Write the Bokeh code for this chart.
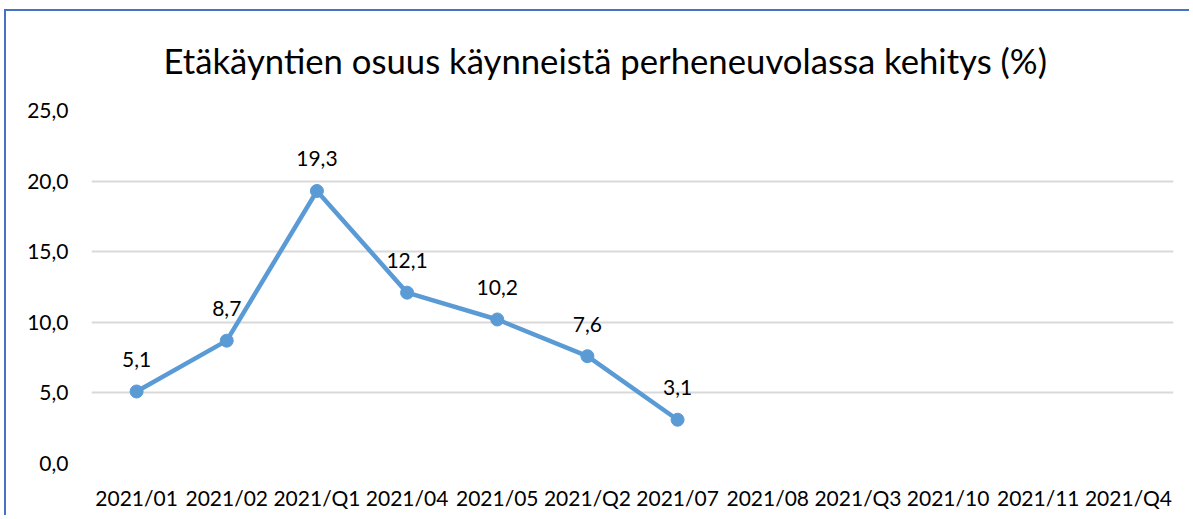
from bokeh.plotting import figure
from bokeh.models import ColumnDataSource, FactorRange, Range1d, FixedTicker
from bokeh.core.properties import value
from bokeh.embed import file_html
from bokeh.resources import INLINE

title_text = "Etäkäyntien osuus käynneistä perheneuvolassa kehitys (%)"
categories = ["2021/01", "2021/02", "2021/Q1", "2021/04", "2021/05", "2021/Q2",
              "2021/07", "2021/08", "2021/Q3", "2021/10", "2021/11", "2021/Q4"]
series_periods = ["2021/01", "2021/02", "2021/Q1", "2021/04", "2021/05", "2021/Q2", "2021/07"]
series_values = [5.1, 8.7, 19.3, 12.1, 10.2, 7.6, 3.1]
y_ticks = [0, 5, 10, 15, 20, 25]
y_tick_labels = ["0,0", "5,0", "10,0", "15,0", "20,0", "25,0"]

FONT = "Lato"
BLUE = "#5B9BD5"

src = ColumnDataSource(dict(
    x=series_periods,
    y=series_values,
    lbl=[f"{v:.1f}".replace(".", ",") for v in series_values],
))

p = figure(
    width=1185, height=506,
    x_range=FactorRange(*categories, range_padding=0),
    y_range=Range1d(0, 25),
    output_backend="svg", toolbar_location=None,
    min_border_left=85, min_border_right=18, min_border_top=98, min_border_bottom=54,
)
p.styles = {"border-top": "2px solid #4472C4", "border-left": "2px solid #4472C4",
            "margin-top": "9px", "margin-left": "4px"}

p.title.text = title_text
p.title.text_font = FONT
p.title.text_font_size = "34.7px"
p.title.text_font_style = "normal"
p.title.text_color = "#000000"
p.title.align = "left"
p.title.vertical_align = "top"
p.title.standoff = 56
p.title.offset = 72

p.outline_line_color = None
p.xgrid.grid_line_color = None
p.ygrid.grid_line_color = "#D9D9D9"
p.ygrid.grid_line_width = 2

p.yaxis.ticker = FixedTicker(ticks=y_ticks)
p.yaxis.major_label_overrides = {t: l for t, l in zip(y_ticks, y_tick_labels)}
for ax in (p.xaxis, p.yaxis):
    ax.axis_line_color = None
    ax.major_tick_line_color = None
    ax.minor_tick_line_color = None
    ax.major_label_text_font = FONT
    ax.major_label_text_font_size = "21px"
    ax.major_label_text_color = "#000000"
p.yaxis.major_label_standoff = 17
p.xaxis.major_label_standoff = 15

p.line("x", "y", source=src, line_color=BLUE, line_width=4.5)
p.scatter("x", "y", source=src, size=13, fill_color=BLUE, line_color=BLUE)
p.text("x", "y", text="lbl", source=src, text_font=value(FONT), text_font_size="21px",
       text_align="center", text_baseline="middle", y_offset=-32, text_color="#000000")

open("out.html", "w").write(file_html(p, INLINE))
